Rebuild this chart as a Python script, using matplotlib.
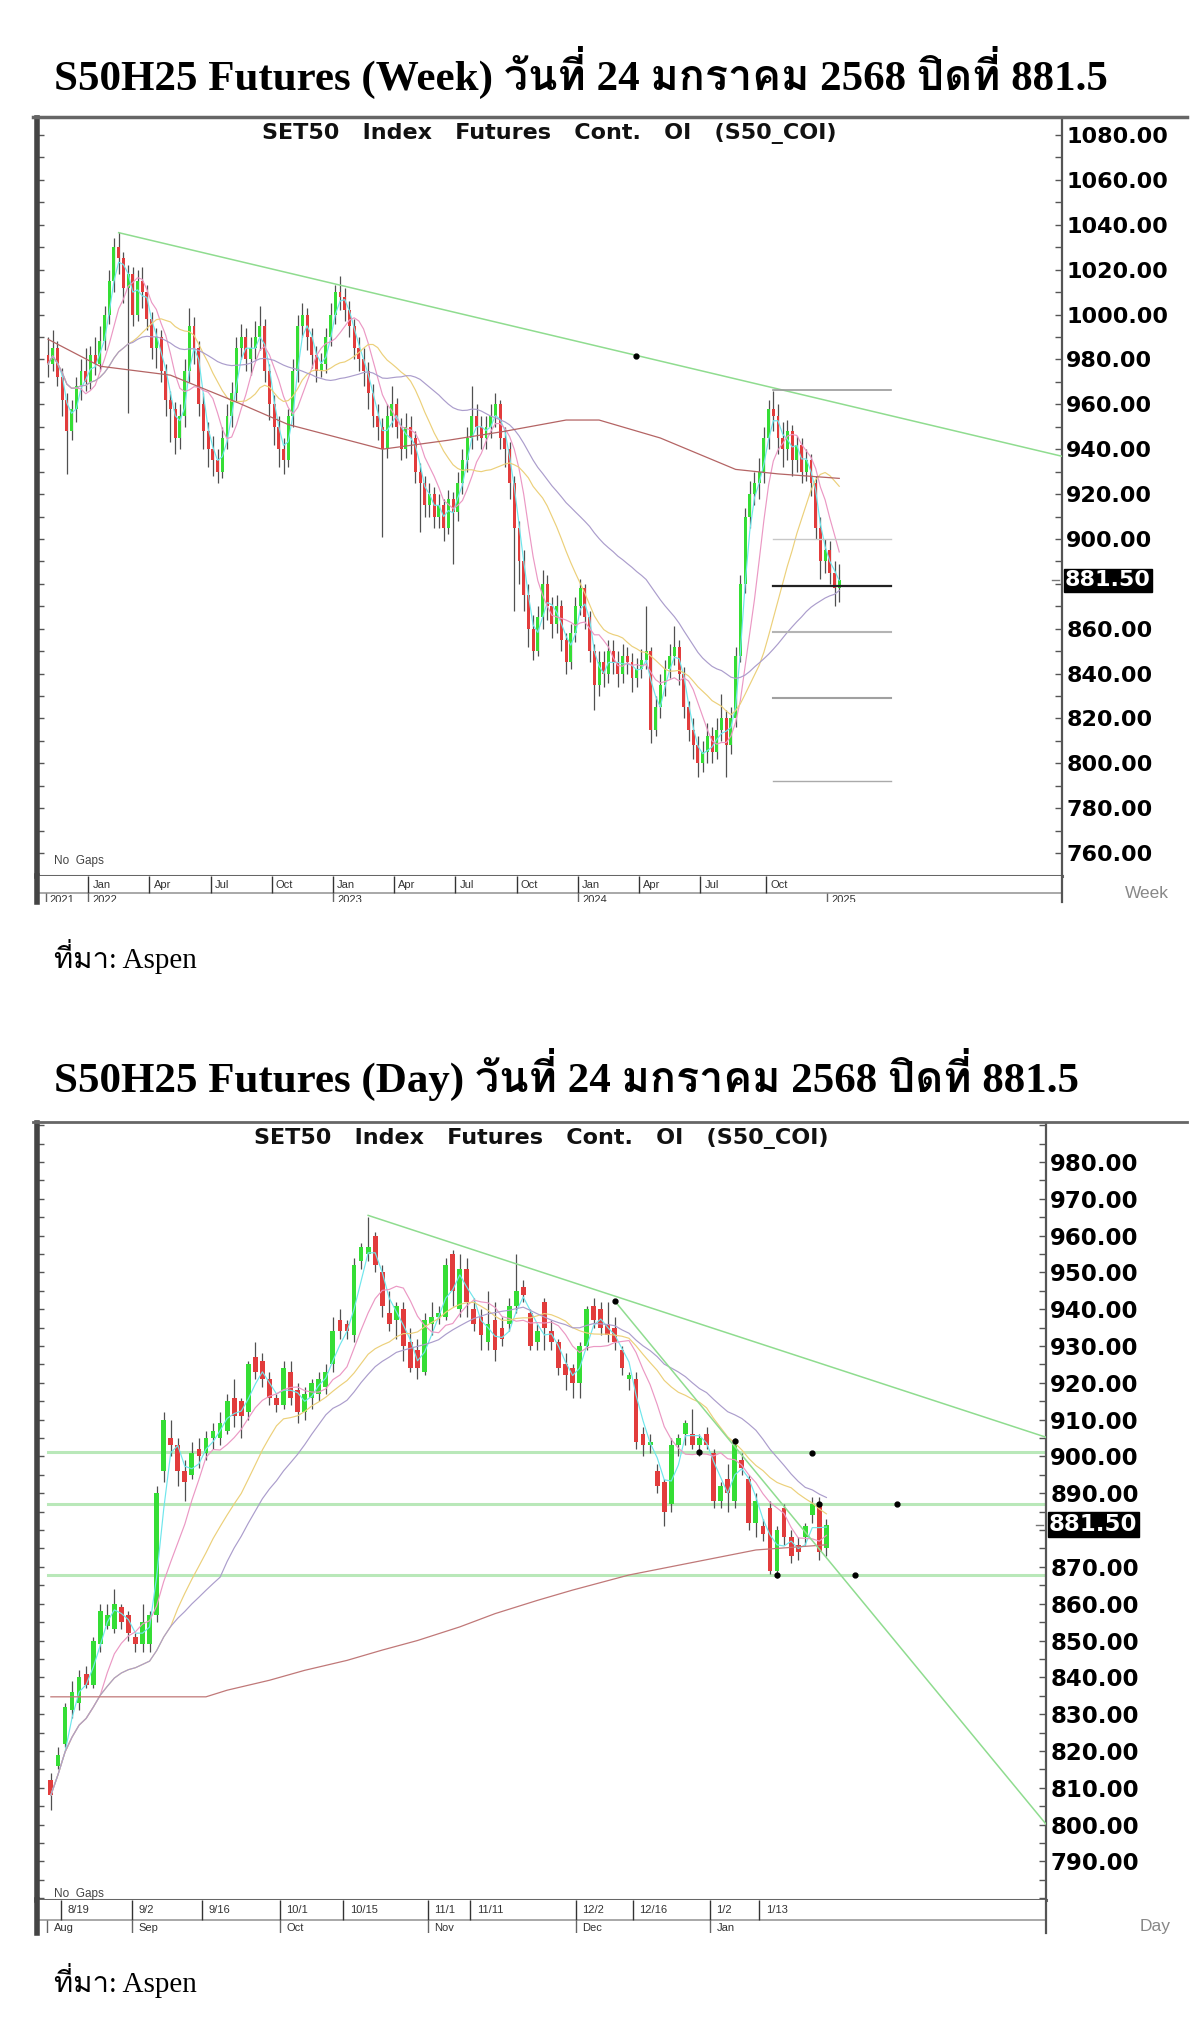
import matplotlib
matplotlib.use('Agg')
import matplotlib.pyplot as plt
from matplotlib import font_manager
from matplotlib.ft2font import FT2Font
from matplotlib.lines import Line2D
from matplotlib.ticker import FixedLocator, MultipleLocator, FormatStrFormatter
import numpy as np
import pandas as pd

# ---------------- weekly data (S50 continuous, one bar per week) ----------------
w_open = [982, 978, 985, 972, 962, 948, 958, 968, 975, 970,
          982, 978, 988, 1000, 1015, 1030, 1025, 1012, 1018, 1000,
          1015, 1010, 998, 985, 990, 975, 962, 958, 945, 955,
          975, 995, 985, 960, 948, 940, 935, 930, 945, 955,
          965, 985, 990, 980, 985, 990, 995, 975, 960, 950,
          940, 935, 955, 975, 995, 1000, 990, 982, 975, 978,
          990, 1000, 1010, 1008, 1002, 995, 985, 980, 975, 965,
          955, 950, 940, 955, 960, 950, 940, 950, 945, 930,
          925, 915, 920, 910, 915, 905, 918, 912, 925, 935,
          945, 955, 950, 945, 950, 955, 960, 945, 940, 925,
          905, 890, 875, 860, 850, 865, 880, 870, 862, 870,
          855, 845, 858, 870, 878, 865, 850, 835, 845, 840,
          850, 845, 840, 848, 845, 838, 842, 846, 850, 815,
          825, 835, 842, 848, 852, 840, 825, 815, 808, 800,
          805, 812, 805, 815, 820, 808, 820, 848, 880, 910,
          920, 925, 930, 945, 958, 955, 945, 940, 948, 935,
          942, 930, 935, 925, 905, 890, 895, 885, 878]
w_high = [990, 993, 988, 976, 965, 962, 972, 980, 985, 986,
          990, 995, 1004, 1020, 1034, 1037, 1028, 1022, 1021, 1020,
          1021, 1013, 1001, 994, 993, 978, 966, 961, 960, 980,
          1003, 999, 988, 965, 952, 946, 940, 950, 960, 970,
          990, 996, 994, 990, 997, 1004, 998, 978, 964, 955,
          945, 958, 980, 1000, 1005, 1003, 994, 986, 983, 994,
          1005, 1013, 1017, 1012, 1006, 998, 990, 985, 979, 969,
          960, 954, 960, 968, 963, 954, 956, 955, 948, 934,
          928, 925, 923, 920, 918, 922, 921, 930, 940, 950,
          968, 960, 955, 955, 960, 965, 962, 950, 943, 928,
          908, 895, 880, 866, 870, 886, 884, 874, 875, 873,
          858, 862, 874, 882, 880, 868, 853, 850, 850, 855,
          855, 850, 853, 852, 849, 847, 851, 870, 852, 830,
          840, 846, 853, 861, 855, 843, 828, 820, 812, 810,
          818, 816, 820, 831, 824, 825, 852, 884, 914, 926,
          930, 936, 950, 962, 966, 960, 952, 953, 951, 946,
          945, 940, 938, 928, 910, 900, 899, 890, 889]
w_low = [972, 975, 968, 955, 929, 944, 952, 962, 966, 967,
         973, 975, 984, 996, 1010, 1018, 1005, 956, 995, 997,
         1003, 993, 980, 976, 970, 955, 943, 938, 940, 950,
         970, 978, 955, 940, 932, 928, 925, 927, 940, 950,
         961, 980, 975, 973, 980, 984, 970, 953, 942, 932,
         929, 932, 950, 970, 990, 984, 976, 970, 972, 974,
         986, 996, 1002, 997, 990, 980, 975, 968, 958, 950,
         944, 901, 936, 950, 945, 935, 936, 938, 925, 903,
         910, 910, 905, 905, 899, 902, 889, 908, 920, 930,
         940, 944, 940, 940, 945, 950, 940, 932, 918, 868,
         880, 868, 852, 846, 848, 860, 864, 856, 858, 850,
         840, 842, 854, 866, 860, 845, 824, 830, 834, 836,
         840, 834, 836, 840, 832, 834, 838, 842, 809, 812,
         820, 830, 838, 844, 835, 820, 810, 802, 794, 796,
         800, 800, 802, 810, 794, 804, 816, 845, 876, 905,
         915, 918, 925, 940, 948, 938, 932, 935, 928, 930,
         925, 926, 919, 900, 882, 885, 880, 870, 872]
w_close = [978, 985, 972, 962, 948, 958, 968, 975, 970, 982,
           978, 988, 1000, 1015, 1030, 1025, 1012, 1018, 1000, 1015,
           1010, 998, 985, 990, 975, 962, 958, 945, 955, 975,
           995, 985, 960, 948, 940, 935, 930, 945, 955, 965,
           985, 990, 980, 985, 990, 995, 975, 960, 950, 940,
           935, 955, 975, 995, 1000, 990, 982, 975, 978, 990,
           1000, 1010, 1008, 1002, 995, 985, 980, 975, 965, 955,
           950, 940, 955, 960, 950, 940, 950, 945, 930, 925,
           915, 920, 910, 915, 905, 918, 912, 925, 935, 945,
           955, 950, 945, 950, 955, 960, 945, 940, 925, 905,
           890, 875, 860, 850, 865, 880, 870, 862, 870, 855,
           845, 858, 870, 878, 865, 850, 835, 845, 840, 850,
           845, 840, 848, 845, 838, 842, 846, 850, 815, 825,
           835, 842, 848, 852, 840, 825, 815, 808, 800, 805,
           812, 805, 815, 820, 808, 820, 848, 880, 910, 920,
           925, 930, 945, 958, 955, 945, 940, 948, 935, 942,
           930, 935, 925, 905, 890, 895, 885, 878, 881.5]
# long moving average (brown)
w_ma_long_x = [0, 11, 26, 40, 51, 71, 85, 97, 110, 117, 130, 146, 155, 168]
w_ma_long_y = [989, 977, 973, 961, 951, 940, 944, 948, 953, 953, 945, 931, 929, 927]
w_trend_x = [15, 216]
w_trend_y = [1036.5, 936.5]
w_dot_x = [124.8]
w_dot_y = [981.5]
w_fib_x = [154, 179]
w_fib_levels = [966.4, 900.0, 879.0, 858.5, 829.0, 792.0]
w_yticks = [760, 780, 800, 820, 840, 860, 900, 920, 940, 960, 980, 1000, 1020, 1040, 1060, 1080]
w_mon_pos = [9, 22, 35, 48, 61, 74, 87, 100, 113, 126, 139, 153]
w_mon_lab = ['Jan', 'Apr', 'Jul', 'Oct', 'Jan', 'Apr', 'Jul', 'Oct', 'Jan', 'Apr', 'Jul', 'Oct']
w_year_pos = [0, 9, 61, 113, 166]
w_year_lab = ['2021', '2022', '2023', '2024', '2025']

# ---------------- daily data ----------------
d_open = [812, 816, 822, 831, 833, 841, 838, 849, 854, 853,
          859, 857, 851, 849, 849, 857, 896, 905, 903, 896,
          895, 902, 901, 905, 905, 907, 916, 915, 912, 927,
          926, 921, 916, 914, 923, 918, 912, 916, 917, 919,
          925, 937, 936, 933, 953, 955, 960, 950, 939, 937,
          940, 931, 929, 923, 936, 938, 938, 955, 940, 951,
          940, 938, 931, 937, 935, 936, 941, 946, 939, 931,
          942, 934, 931, 925, 924, 920, 930, 941, 940, 936,
          935, 929, 921, 921, 906, 903, 896, 893, 887, 903,
          906, 906, 903, 906, 901, 888, 894, 888, 899, 894,
          882, 881, 886, 869, 886, 878, 876, 878, 884, 887, 875]
d_high = [814, 821, 833, 839, 842, 843, 851, 860, 860, 864,
          860, 858, 852, 860, 858, 892, 912, 910, 905, 899,
          904, 905, 907, 909, 912, 917, 921, 916, 926, 931,
          928, 923, 917, 926, 926, 920, 919, 921, 923, 925,
          938, 940, 937, 954, 958, 965, 961, 952, 945, 942,
          942, 935, 932, 939, 942, 941, 954, 956, 955, 954,
          943, 940, 945, 942, 938, 943, 955, 948, 940, 936,
          943, 937, 932, 928, 925, 931, 941, 943, 942, 942,
          938, 930, 923, 923, 908, 906, 898, 894, 905, 906,
          910, 913, 906, 908, 902, 893, 898, 905, 901, 895,
          890, 883, 888, 881, 887, 880, 878, 882, 889, 889, 883]
d_low = [804, 815, 821, 829, 831, 837, 837, 847, 853, 852,
         853, 850, 847, 847, 847, 855, 893, 900, 892, 888,
         894, 897, 899, 902, 903, 906, 908, 905, 910, 921,
         919, 914, 912, 913, 914, 909, 910, 913, 915, 917,
         923, 932, 932, 931, 951, 953, 950, 938, 934, 932,
         926, 923, 921, 922, 933, 936, 937, 941, 938, 938,
         934, 929, 929, 926, 930, 934, 939, 942, 929, 929,
         929, 929, 922, 918, 916, 916, 929, 935, 933, 931,
         929, 922, 918, 902, 900, 901, 890, 881, 885, 900,
         903, 902, 900, 902, 886, 886, 885, 886, 895, 880,
         878, 877, 868, 867, 876, 871, 872, 876, 882, 872, 873]
d_close = [808, 819, 832, 836, 840, 838, 850, 858, 857, 860,
           855, 852, 849, 855, 857, 890, 910, 903, 896, 893,
           901, 900, 905, 907, 909, 915, 911, 911, 925, 923,
           921, 916, 914, 924, 916, 912, 917, 920, 921, 923,
           934, 934, 934, 952, 957, 957, 952, 941, 936, 941,
           930, 924, 924, 937, 938, 939, 952, 945, 951, 942,
           936, 933, 936, 929, 932, 941, 945, 944, 930, 934,
           935, 931, 924, 922, 920, 930, 940, 937, 935, 933,
           931, 924, 922, 904, 903, 904, 892, 885, 903, 905,
           909, 903, 905, 903, 888, 892, 890, 903, 897, 882,
           888, 879, 869, 880, 878, 873, 874, 881, 887, 874, 881.5]
d_ma_long_x = [0, 22, 25, 31, 36, 42, 47, 52, 58, 63, 69, 74, 82, 100, 110]
d_ma_long_y = [834.7, 834.7, 836.5, 839.2, 841.9, 844.6, 847.4, 850.0, 853.7, 857.3, 860.9, 863.7, 867.8, 874.6, 876.0]
d_trend1_x = [45, 141.2]
d_trend1_y = [965.5, 905.2]
d_trend2_x = [80, 141.2]
d_trend2_y = [942.2, 800.0]
d_hlines = [901.3, 887.0, 867.8]
d_dot_x = [80, 92, 97, 103, 108, 109, 114, 120]
d_dot_y = [942.2, 901.3, 904.3, 867.8, 901.0, 887.0, 867.8, 887.0]
d_yticks = [790, 800, 810, 820, 830, 840, 850, 860, 870, 890, 900, 910, 920, 930, 940, 950, 960, 970, 980]
d_day_pos = [2, 12, 22, 33, 42, 54, 60, 75, 83, 94, 101]
d_day_lab = ['8/19', '9/2', '9/16', '10/1', '10/15', '11/1', '11/11', '12/2', '12/16', '1/2', '1/13']
d_mon_pos = [0, 12, 33, 54, 75, 94]
d_mon_lab = ['Aug', 'Sep', 'Oct', 'Nov', 'Dec', 'Jan']

last_price = 881.5
title_week = 'S50H25 Futures (Week) วันที่ 24 มกราคม 2568 ปิดที่ 881.5'
title_day = 'S50H25 Futures (Day) วันที่ 24 มกราคม 2568 ปิดที่ 881.5'
chart_name = 'SET50   Index   Futures   Cont.   OI   (S50_COI)'
source = 'ที่มา: Aspen'

# ---------------- fonts ----------------
def find_thai():
    for f in font_manager.fontManager.ttflist:
        try:
            if 0x0E27 in FT2Font(f.fname).get_charmap():
                return f.name
        except Exception:
            pass
    return None

thai = find_thai()
serif = ['Liberation Serif'] + ([thai] if thai else []) + ['DejaVu Serif', 'DejaVu Sans']
narrow = ['Liberation Sans Narrow', 'Liberation Sans', 'DejaVu Sans']
bold = ['DejaVu Sans']

W, H = 1200, 2028
fig = plt.figure(figsize=(W / 100, H / 100), dpi=100)
fig.patch.set_facecolor('white')


def rect(x0, y0, x1, y1):
    return [x0 / W, 1 - y1 / H, (x1 - x0) / W, (y1 - y0) / H]


def fx(x):
    return x / W


def fy(y):
    return 1 - y / H


GREEN = '#35de35'
RED = '#e23c3c'
MA_COLORS = ['#6fe6ec', '#eb98c4', '#ecd07a', '#ab9dcc']


def candles(ax, o, h, l, c, width):
    o = np.array(o, float); h = np.array(h, float)
    l = np.array(l, float); c = np.array(c, float)
    x = np.arange(len(c))
    col = np.where(c >= o, GREEN, RED)
    ax.vlines(x, l, h, color='#505050', lw=0.9, zorder=2)
    ax.bar(x, np.maximum(np.abs(c - o), 0.8), bottom=np.minimum(o, c), width=width,
           color=col, edgecolor='none', zorder=3)


def mas(ax, c, periods):
    s = pd.Series(c, dtype=float)
    x = np.arange(len(c))
    for p, col in zip(periods, MA_COLORS):
        ax.plot(x, s.rolling(p, min_periods=1).mean(), color=col, lw=0.85, zorder=4)


def style(ax, ylim, xlim, yticks, minor, labelsize):
    ax.set_xlim(*xlim)
    ax.set_ylim(*ylim)
    ax.set_xticks([])
    ax.yaxis.set_major_locator(FixedLocator(yticks))
    ax.yaxis.set_minor_locator(MultipleLocator(minor))
    ax.yaxis.set_major_formatter(FormatStrFormatter('%.2f'))
    ax.tick_params(axis='y', which='both', left=True, right=True, labelleft=False,
                   labelright=True, direction='in', length=5, width=1, color='#555555',
                   labelsize=labelsize, pad=3)
    for t in ax.get_yticklabels():
        t.set_fontweight('bold')
        t.set_fontfamily(bold)
    ax.spines['top'].set_visible(False)
    ax.spines['left'].set_linewidth(4)
    ax.spines['left'].set_color('#444444')
    ax.spines['right'].set_linewidth(1.6)
    ax.spines['right'].set_color('#555555')
    ax.spines['bottom'].set_linewidth(2.2)
    ax.spines['bottom'].set_color('#666666')
    ax.text(0.5, 0.994, chart_name, transform=ax.transAxes, ha='center', va='top',
            fontsize=16, fontweight='bold', family=bold, color='#111111')
    ax.plot([0.990, 0.997], [last_price, last_price], transform=ax.get_yaxis_transform(),
            color='#777777', lw=1.0, zorder=6)
    ax.text(1.003, last_price, '%.2f' % last_price, transform=ax.get_yaxis_transform(),
            ha='left', va='center', fontsize=labelsize, fontweight='bold', family=bold,
            color='white', bbox=dict(facecolor='black', edgecolor='black', pad=1.0), zorder=10,
            clip_on=False)


def band(r, xlim, split, top_pos, top_lab, bot_pos, bot_lab):
    bx = fig.add_axes(r)
    bx.set_xlim(*xlim)
    bx.set_ylim(0, 1)
    bx.set_xticks([]); bx.set_yticks([])
    for s in ['top', 'bottom']:
        bx.spines[s].set_visible(False)
    bx.spines['left'].set_linewidth(4)
    bx.spines['left'].set_color('#444444')
    bx.spines['right'].set_linewidth(1.6)
    bx.spines['right'].set_color('#555555')
    bx.axhline(split, color='#999999', lw=1.2)
    bx.vlines(np.array(top_pos) - 0.5, split, 1, color='#333333', lw=1.0)
    bx.vlines(np.array(bot_pos) - 0.5, 0, split, color='#666666', lw=1.0)
    for p, t in zip(top_pos, top_lab):
        bx.text(p + 0.4, (1 + split) / 2, t, ha='left', va='center', fontsize=8,
                family=narrow, color='#333333')
    for p, t in zip(bot_pos, bot_lab):
        bx.text(p + 0.4, split - 0.08, t, ha='left', va='top', fontsize=8,
                family=narrow, color='#333333', clip_on=True)
    return bx


# ================= weekly panel =================
fig.text(fx(54), fy(72), title_week, ha='left', va='center', fontsize=31,
         fontweight='bold', family=serif)
fig.add_artist(Line2D([fx(33), fx(1187)], [fy(117), fy(117)], color='#666666', lw=2.5))

w_xlim = (-2.34, 215.3)
axw = fig.add_axes(rect(37, 118, 1062, 876))
candles(axw, w_open, w_high, w_low, w_close, 0.62)
mas(axw, w_close, [3, 7, 18, 40])
axw.plot(w_ma_long_x, w_ma_long_y, color='#b46464', lw=0.9, zorder=4)
axw.plot(w_trend_x, w_trend_y, color='#8fdc8f', lw=1.1, zorder=5)
axw.plot(w_dot_x, w_dot_y, 'o', color='black', ms=3.5, zorder=6)
fib_col = ['#9a9a9a', '#c8c8c8', '#222222', '#b4b4b4', '#a0a0a0', '#aaaaaa']
fib_lw = [1.2, 1.0, 1.6, 1.5, 1.5, 1.0]
for lv, col, lw in zip(w_fib_levels, fib_col, fib_lw):
    axw.plot(w_fib_x, [lv, lv], color=col, lw=lw, zorder=5)
style(axw, (749.8, 1087.6), w_xlim, w_yticks, 10, 16)
axw.text(0.017, 0.012, 'No  Gaps', transform=axw.transAxes, fontsize=8.5, family=narrow,
         color='#444444', ha='left', va='bottom')
band(rect(37, 876, 1062, 902), w_xlim, 9 / 26, w_mon_pos, w_mon_lab, w_year_pos, w_year_lab)
fig.text(fx(1125), fy(893), 'Week', fontsize=12.5, family=narrow, color='#888888',
         ha='left', va='center')
fig.text(fx(54), fy(957), source, fontsize=21, family=serif, ha='left', va='center')

# ================= daily panel =================
fig.text(fx(54), fy(1074), title_day, ha='left', va='center', fontsize=31,
         fontweight='bold', family=serif)
fig.add_artist(Line2D([fx(33), fx(1187)], [fy(1122), fy(1122)], color='#666666', lw=2.0))

d_xlim = (-1.97, 141.15)
axd = fig.add_axes(rect(37, 1123, 1046, 1900))
for lv in d_hlines:
    axd.plot([-0.4, d_xlim[1]], [lv, lv], color='#b9e8b9', lw=2.2, zorder=1)
candles(axd, d_open, d_high, d_low, d_close, 0.68)
mas(axd, d_close, [3, 8, 18, 25])
axd.plot(d_ma_long_x, d_ma_long_y, color='#c07878', lw=0.9, zorder=4)
axd.plot(d_trend1_x, d_trend1_y, color='#8fdc8f', lw=1.1, zorder=5)
axd.plot(d_trend2_x, d_trend2_y, color='#8fdc8f', lw=1.1, zorder=5)
axd.plot(d_dot_x, d_dot_y, 'o', color='black', ms=3.5, zorder=6)
style(axd, (779.5, 990.6), d_xlim, d_yticks, 5, 16.5)
axd.text(0.017, 0.0, 'No  Gaps', transform=axd.transAxes, fontsize=8.5, family=narrow,
         color='#444444', ha='left', va='bottom')
band(rect(37, 1900, 1046, 1933), d_xlim, 13 / 33, d_day_pos, d_day_lab, d_mon_pos, d_mon_lab)
fig.text(fx(1140), fy(1927), 'Day', fontsize=12.5, family=narrow, color='#888888',
         ha='left', va='center')
fig.text(fx(54), fy(1981), source, fontsize=21, family=serif, ha='left', va='center')

fig.savefig('out.png', dpi=100, facecolor='white')
